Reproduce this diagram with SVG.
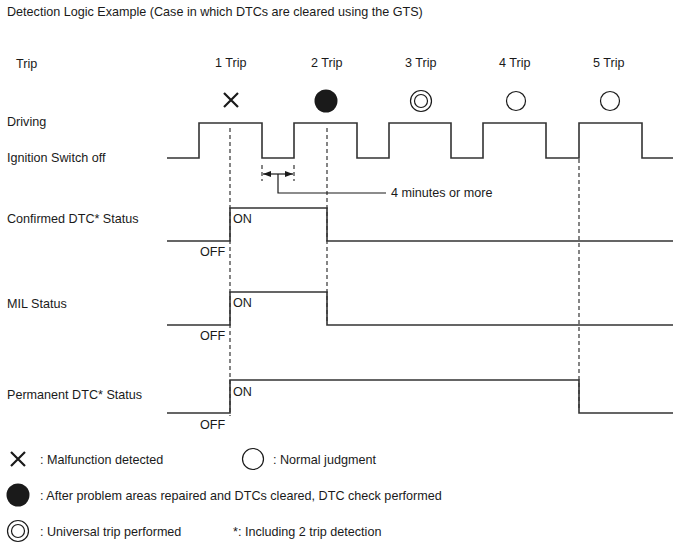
<svg xmlns="http://www.w3.org/2000/svg" width="688" height="560" viewBox="0 0 688 560">
<style>
text{font-family:"Liberation Sans",Arial,sans-serif;font-size:12.6px;fill:#1a1a1a}
.w{fill:none;stroke:#333;stroke-width:1.6}
.d{fill:none;stroke:#444;stroke-width:1.3;stroke-dasharray:4,3}
.t{fill:none;stroke:#1a1a1a;stroke-width:1.2}
.s{fill:none;stroke:#1a1a1a;stroke-width:2.2}
</style>
<defs>
<marker id="ah" markerWidth="8" markerHeight="6" refX="8" refY="3" orient="auto" markerUnits="userSpaceOnUse"><path d="M0,0 L8,3 L0,6 Z" fill="#1a1a1a"/></marker>
</defs>
<rect width="688" height="560" fill="#fff"/>
<text x="7" y="16">Detection Logic Example (Case in which DTCs are cleared using the GTS)</text>
<g id="labels">
<text x="16" y="68">Trip</text>
<text x="215" y="67">1 Trip</text>
<text x="311" y="67">2 Trip</text>
<text x="405" y="67">3 Trip</text>
<text x="499" y="67">4 Trip</text>
<text x="593" y="67">5 Trip</text>
<text x="7" y="126">Driving</text>
<text x="7" y="162">Ignition Switch off</text>
<text x="7" y="223">Confirmed DTC* Status</text>
<text x="7" y="308">MIL Status</text>
<text x="7" y="399">Permanent DTC* Status</text>
</g>
<g id="trip-symbols">
<path class="s" d="M224,93 L238,107 M238,93 L224,107"/>
<circle cx="326" cy="101" r="11.5" fill="#1a1a1a"/>
<circle cx="421" cy="101" r="10.5" class="t" stroke-width="1.7"/>
<circle cx="421" cy="101" r="6.5" class="t" stroke-width="1.7"/>
<circle cx="516" cy="101" r="9.5" class="t" stroke-width="1.9"/>
<circle cx="610" cy="101" r="9.5" class="t" stroke-width="1.9"/>
</g>
<g id="connectors">
<path class="d" d="M230,128 V416"/>
<path class="d" d="M327,128 V324"/>
<path class="d" d="M579,159 V411"/>
<path class="d" d="M262,165 V181 M294,165 V181"/>
</g>
<g id="driving">
<path class="w" d="M167,158 H199 V123 H262 V158 H294 V123 H357 V158 H389 V123 H451 V158 H483 V123 H546 V158 H579 V123 H642 V158 H673"/>
</g>
<g id="dimension">
<path class="t" d="M278,174 H263" marker-end="url(#ah)"/>
<path class="t" d="M278,174 H293" marker-end="url(#ah)"/>
<path class="t" d="M278,174 V193 H386"/>
<text x="391" y="197">4 minutes or more</text>
</g>
<g id="confirmed">
<path class="w" d="M167,241 H230 V208 H327 V241 H673"/>
<text x="233" y="223">ON</text>
<text x="200" y="256">OFF</text>
</g>
<g id="mil">
<path class="w" d="M167,325 H230 V292 H327 V325 H673"/>
<text x="233" y="307">ON</text>
<text x="200" y="340">OFF</text>
</g>
<g id="permanent">
<path class="w" d="M167,413 H230 V380 H579 V413 H673"/>
<text x="233" y="396">ON</text>
<text x="200" y="429">OFF</text>
</g>
<g id="legend">
<path class="s" d="M11,452 L25,466 M25,452 L11,466"/>
<text x="40" y="464">: Malfunction detected</text>
<circle cx="253" cy="459" r="10.5" class="t" stroke-width="1.9"/>
<text x="273" y="464">: Normal judgment</text>
<circle cx="18" cy="495" r="11.5" fill="#1a1a1a"/>
<text x="40" y="500">: After problem areas repaired and DTCs cleared, DTC check performed</text>
<circle cx="18" cy="531" r="10.5" class="t" stroke-width="1.7"/>
<circle cx="18" cy="531" r="6.5" class="t" stroke-width="1.7"/>
<text x="40" y="536">: Universal trip performed</text>
<text x="233" y="536">*: Including 2 trip detection</text>
</g>
</svg>
